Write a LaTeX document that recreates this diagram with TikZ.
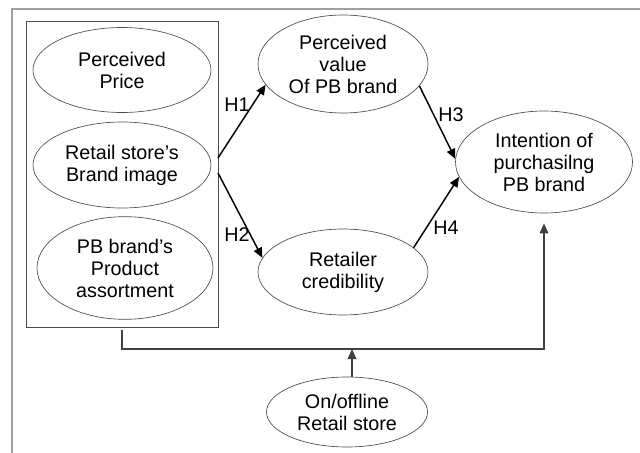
\documentclass[tikz,border=0pt]{standalone}
\usepackage{fontspec}
\setmainfont{Liberation Sans}
\usetikzlibrary{arrows.meta,positioning,calc,shapes.geometric}
\tikzset{
  framel/.style={line width=1.5pt, gray!75},
  groupbox/.style={draw=black!70, line width=0.6pt, inner sep=0pt},
  ellbox/.style={ellipse, draw=black!70, line width=0.5pt, inner sep=0pt,
    align=center, font=\fontsize{14.8}{16.5}\selectfont},
  hypln/.style={-{Triangle[length=7.5pt,width=6.5pt]}, line width=1.1pt},
  modln/.style={-{Triangle[length=7.5pt,width=6.5pt]}, line width=0.9pt, black!75},
  hlab/.style={inner sep=0pt, font=\fontsize{14.8}{16.5}\selectfont},
}
\begin{document}
\begin{tikzpicture}[x=0.75pt, y=-0.75pt]
    \useasboundingbox (0,0) rectangle (640,453);
    % outer frame (cut off at right and bottom)
    \draw[framel] (640,9.5) -- (12,9.5) -- (12,453);
    % antecedents
    \node[groupbox, minimum width=144pt, minimum height=229.5pt] (grp) at (122,174) {};
    \node[ellbox, minimum width=133.5pt, minimum height=63.75pt] (price) at (122,70)
      {Perceived\\Price};
    \node[ellbox, minimum width=133.5pt, minimum height=64.5pt] (image) at (122,165)
      {Retail store's\\Brand image};
    \node[ellbox, minimum width=132pt, minimum height=77pt] (assort) at (125,268)
      {PB brand's\\Product\\assortment};
    % mediators and outcome
    \node[ellbox, minimum width=127.5pt, minimum height=73.5pt] (value) at (343,64)
      {Perceived\\value\\Of PB brand};
    \node[ellbox, minimum width=127.5pt, minimum height=64.5pt] (cred) at (343,272)
      {Retailer\\credibility};
    \node[ellbox, minimum width=132.75pt, minimum height=76.5pt] (intent) at (544,162)
      {Intention of\\purchasilng\\PB brand};
    \node[ellbox, minimum width=120.75pt, minimum height=52.5pt] (store) at (347,412)
      {On/offline\\Retail store};
    % hypotheses
    \coordinate (h1s) at (218,158);
    \coordinate (h2s) at (218,173);
    \draw[hypln] (h1s) -- (value.195);
    \draw[hypln] (h2s) -- (cred.170);
    \draw[hypln] (value.-16) -- (intent.178);
    \draw[hypln] (cred.19) -- (intent.190);
    \node[hlab] (lh1) at (237,105) {H1};
    \node[hlab] (lh2) at (237,235) {H2};
    \node[hlab] (lh3) at (451,115) {H3};
    \node[hlab] (lh4) at (446,228) {H4};
    % moderating path
    \coordinate (jn) at (352,349);
    \draw[modln, shorten <=2pt, shorten >=7.5pt] (grp.south) -- (grp.south |- jn) -| (intent.south);
    \draw[modln] (store.north -| jn) -- (jn);
\end{tikzpicture}
\end{document}
